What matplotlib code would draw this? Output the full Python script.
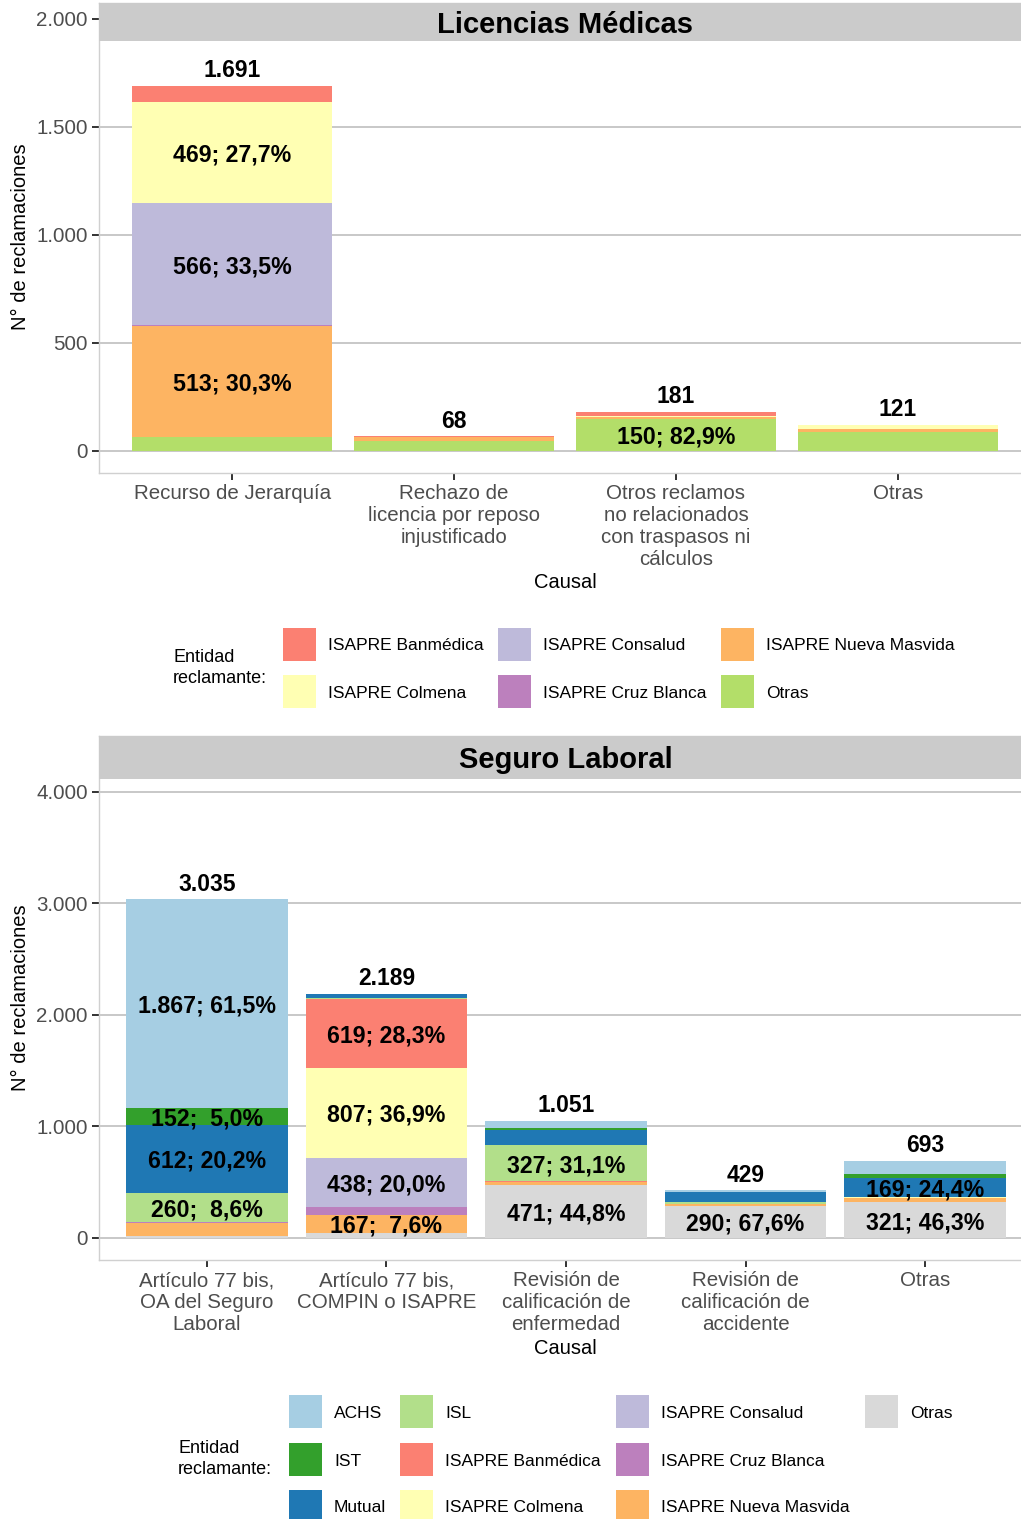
import numpy as np
import matplotlib
matplotlib.use('Agg')
import matplotlib.pyplot as plt
from matplotlib.patches import Rectangle
from matplotlib.ticker import FuncFormatter

plt.rcParams['font.family'] = ['Liberation Sans', 'DejaVu Sans']

# --- datos: Licencias Médicas ---
lm_causales = ['Recurso de Jerarquía',
               'Rechazo de\nlicencia por reposo\ninjustificado',
               'Otros reclamos\nno relacionados\ncon traspasos ni\ncálculos',
               'Otras']
lm_entidades = ['ISAPRE Banmédica', 'ISAPRE Colmena', 'ISAPRE Consalud',
                'ISAPRE Cruz Blanca', 'ISAPRE Nueva Masvida', 'Otras']
lm_banmedica = [75, 2, 20, 0]
lm_colmena = [469, 3, 3, 20]
lm_consalud = [566, 0, 0, 0]
lm_cruz_blanca = [2, 0, 0, 0]
lm_nueva_masvida = [513, 15, 8, 15]
lm_otras = [66, 48, 150, 86]
lm_yticks = [0, 500, 1000, 1500, 2000]

# --- datos: Seguro Laboral ---
sl_causales = ['Artículo 77 bis,\nOA del Seguro\nLaboral',
               'Artículo 77 bis,\nCOMPIN o ISAPRE',
               'Revisión de\ncalificación de\nenfermedad',
               'Revisión de\ncalificación de\naccidente',
               'Otras']
sl_entidades = ['ACHS', 'IST', 'Mutual', 'ISL', 'ISAPRE Banmédica',
                'ISAPRE Colmena', 'ISAPRE Consalud', 'ISAPRE Cruz Blanca',
                'ISAPRE Nueva Masvida', 'Otras']
sl_achs = [1867, 5, 68, 14, 120]
sl_ist = [152, 2, 14, 3, 34]
sl_mutual = [612, 28, 134, 92, 169]
sl_isl = [260, 10, 327, 12, 6]
sl_banmedica = [0, 619, 3, 0, 0]
sl_colmena = [0, 807, 4, 5, 6]
sl_consalud = [0, 438, 0, 0, 0]
sl_cruz_blanca = [13, 70, 0, 0, 0]
sl_nueva_masvida = [115, 167, 30, 13, 37]
sl_otras = [16, 43, 471, 290, 321]
sl_yticks = [0, 1000, 2000, 3000, 4000]

lm_colores = ['#FB8072', '#FFFFB3', '#BEBADA', '#BC80BD', '#FDB462', '#B3DE69']
sl_colores = ['#A6CEE3', '#33A02C', '#1F78B4', '#B2DF8A', '#FB8072',
              '#FFFFB3', '#BEBADA', '#BC80BD', '#FDB462', '#D9D9D9']

W, H = 1021, 1519
fig = plt.figure(figsize=(W / 100, H / 100), dpi=100)


def box(x0, y0, x1, y1):
    """px (desde arriba) -> rect en coordenadas de figura"""
    return [x0 / W, 1 - y1 / H, (x1 - x0) / W, (y1 - y0) / H]


def miles(n):
    return f"{int(n):,}".replace(',', '.')


def draw_panel(rect, causales, valores, colores, ylim, yticks, titulo, strip_rect):
    ax = fig.add_axes(rect)
    x = np.arange(1, len(causales) + 1)
    totales = np.sum(valores, axis=0)
    bottom = np.zeros(len(causales))
    # ggplot apila el primer nivel arriba
    for v, c in zip(valores[::-1], colores[::-1]):
        v = np.array(v, dtype=float)
        ax.bar(x, v, 0.9, bottom=bottom, color=c, linewidth=0, zorder=2)
        for xi, vi, bi, ti in zip(x, v, bottom, totales):
            if vi >= 150:
                pct = f"{vi / ti * 100:4.1f}".replace('.', ',')
                ax.text(xi, bi + vi / 2, f"{miles(vi)}; {pct}%", ha='center',
                        va='center_baseline', fontsize=16.7, fontweight='bold', zorder=3)
        bottom += v
    for xi, t in zip(x, totales):
        ax.annotate(miles(t), (xi, t), xytext=(0, 12.5), textcoords='offset points',
                    ha='center', va='center_baseline', fontsize=16.5, fontweight='bold')

    ax.set_xlim(0.4, len(causales) + 0.6)
    ax.set_ylim(*ylim)
    ax.set_xticks(x)
    ax.set_xticklabels(causales, linespacing=1.2)
    ax.set_yticks(yticks)
    ax.yaxis.set_major_formatter(FuncFormatter(lambda v, p: miles(v)))
    ax.tick_params(length=5, width=1.4, color='#333333', labelcolor='#4d4d4d',
                   labelsize=14.8, pad=3)
    ax.yaxis.grid(True, color='#c8c8c8', lw=1.4)
    ax.set_axisbelow(True)
    for s in ax.spines.values():
        s.set_color('#d0d0d0')
        s.set_linewidth(1)

    sax = fig.add_axes(strip_rect, zorder=3)
    sax.set_facecolor('#cbcbcb')
    sax.set_xticks([])
    sax.set_yticks([])
    for s in sax.spines.values():
        s.set_visible(False)
    sax.text(0.5, 0.5, titulo, ha='center', va='center_baseline',
             fontsize=21, fontweight='bold', transform=sax.transAxes)
    return ax


def draw_legend(entidades, colores, key_x, label_x, row_y, title_xy):
    nrows = len(row_y)
    for i, (e, c) in enumerate(zip(entidades, colores)):
        col, row = i // nrows, i % nrows
        y = row_y[row]
        fig.add_artist(Rectangle((key_x[col] / W, 1 - (y + 33) / H), 33 / W, 33 / H,
                                 transform=fig.transFigure, facecolor=c,
                                 edgecolor='none'))
        fig.text(label_x[col] / W, 1 - (y + 16.5) / H, e, ha='left',
                 va='center_baseline', fontsize=12.5, color='black')
    fig.text(title_xy[0] / W, 1 - title_xy[1] / H, 'Entidad\nreclamante:',
             ha='left', va='center', fontsize=13, linespacing=1.3)


# panel 1
lm_valores = [lm_banmedica, lm_colmena, lm_consalud, lm_cruz_blanca,
              lm_nueva_masvida, lm_otras]
draw_panel(box(99, 3, 1031, 472.5), lm_causales, lm_valores, lm_colores,
           (-100, 2074), lm_yticks, 'Licencias Médicas', box(99, 3, 1031, 41))
fig.text(20 / W, 1 - 237 / H, 'N° de reclamaciones', rotation=90,
         ha='center', va='center', fontsize=14.5)
fig.text(565 / W, 1 - 582 / H, 'Causal', ha='center', va='center', fontsize=14.5)
draw_legend(lm_entidades, lm_colores, [283, 498, 721], [328, 543, 766],
            [628, 675], (173, 668))

# panel 2
sl_valores = [sl_achs, sl_ist, sl_mutual, sl_isl, sl_banmedica, sl_colmena,
              sl_consalud, sl_cruz_blanca, sl_nueva_masvida, sl_otras]
draw_panel(box(99, 736, 1033, 1260.3), sl_causales, sl_valores, sl_colores,
           (-200, 4498), sl_yticks, 'Seguro Laboral', box(99, 736, 1033, 779))
fig.text(20 / W, 1 - 998 / H, 'N° de reclamaciones', rotation=90,
         ha='center', va='center', fontsize=14.5)
fig.text(565 / W, 1 - 1349 / H, 'Causal', ha='center', va='center', fontsize=14.5)
draw_legend(sl_entidades, sl_colores, [289, 400, 616, 865], [334, 445, 661, 910],
            [1395, 1443, 1490], (178, 1459))

plt.savefig('out.png', dpi=100)
plt.close()
